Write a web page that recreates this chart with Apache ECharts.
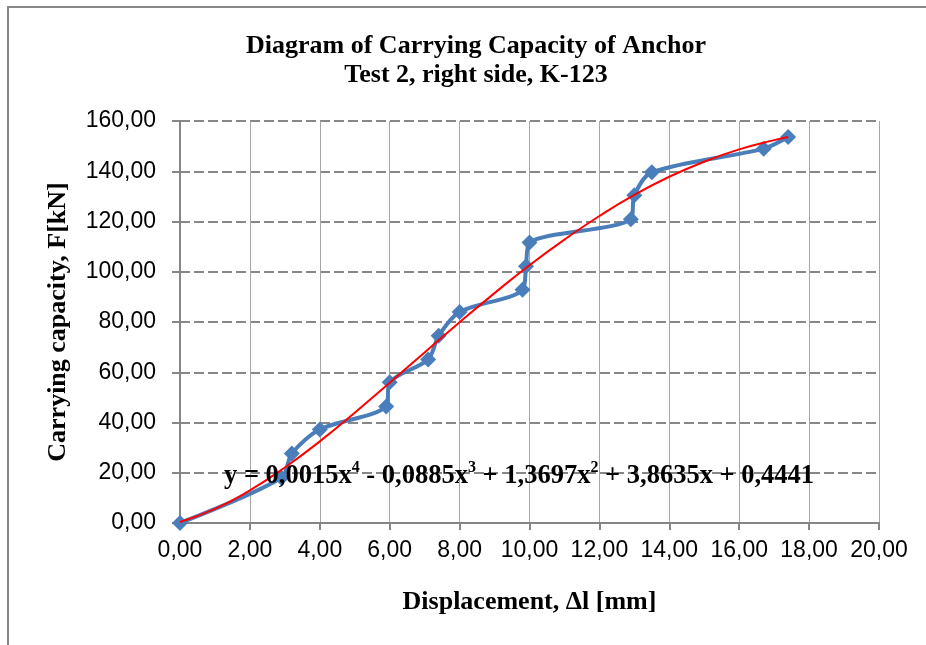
<!DOCTYPE html>
<html>
<head>
<meta charset="utf-8">
<script src="https://cdn.jsdelivr.net/npm/echarts@6/dist/echarts.min.js"></script>
<style>
  html, body { margin: 0; padding: 0; background: #fff; }
  #chart { width: 926px; height: 645px; }
</style>
</head>
<body>
<div id="chart"></div>
<script>
// measured points: displacement [mm] / capacity [kN]
const dispX = [0, 2.9, 3.2, 4.0, 5.9, 6.0, 7.1, 7.4, 8.0, 9.8, 9.9, 10.0, 12.9, 13.0, 13.5, 16.7, 17.4];
const forceY = [0, 18.0, 27.7, 37.2, 46.4, 56.0, 65.1, 74.5, 84.0, 92.8, 102.2, 111.6, 120.9, 130.4, 139.6, 149.0, 153.6];

// red trend line
const trendX = [0, 1, 2, 3, 4, 5, 6, 7, 8, 9, 10, 11, 12, 13, 14, 15, 16, 17, 17.4];
const trendY = [0.4, 5.6, 13.0, 22.1, 32.5, 43.9, 55.8, 67.9, 79.9, 91.5, 102.6, 112.8, 122.2, 130.6, 137.8, 143.8, 148.7, 152.4, 153.6];

const titleText = 'Diagram of Carrying Capacity of Anchor\nTest 2, right side, K-123';
const xName = 'Displacement, \u0394l [mm]';
const yName = 'Carrying capacity, F[kN]';

const serif = '"Liberation Serif", "Times New Roman", serif';
const sans = '"Liberation Sans", Arial, sans-serif';

const fmt = v => v.toFixed(2).replace('.', ',');

const chart = echarts.init(document.getElementById('chart'));
chart.setOption({
  animation: false,
  title: {
    text: titleText,
    left: 471,
    top: 27,
    textAlign: 'center',
    textStyle: { fontFamily: serif, fontWeight: 'bold', fontSize: 26, lineHeight: 29, color: '#000' }
  },
  grid: { left: 180, right: 47, top: 121, bottom: 122 },
  xAxis: {
    type: 'value',
    min: 0, max: 20, interval: 2,
    name: xName,
    nameLocation: 'middle',
    nameGap: 66,
    nameTextStyle: { fontFamily: serif, fontWeight: 'bold', fontSize: 26, color: '#000' },
    axisLine: { lineStyle: { color: '#868686', width: 2 } },
    axisTick: { show: true, length: 7, lineStyle: { color: '#868686', width: 2 } },
    axisLabel: { formatter: fmt, margin: 16, fontFamily: sans, fontSize: 23, color: '#000' },
    splitLine: { show: true, lineStyle: { color: '#a6a6a6', width: 1, type: 'solid' } }
  },
  yAxis: {
    type: 'value',
    min: 0, max: 160, interval: 20,
    name: yName,
    nameLocation: 'middle',
    nameGap: 109,
    nameTextStyle: { fontFamily: serif, fontWeight: 'bold', fontSize: 26, color: '#000' },
    axisLine: { show: true, lineStyle: { color: '#868686', width: 2 } },
    axisTick: { show: true, length: 8, lineStyle: { color: '#868686', width: 2 } },
    axisLabel: { formatter: fmt, margin: 24, fontFamily: sans, fontSize: 23, color: '#000' },
    splitLine: { show: true, lineStyle: { color: '#878787', width: 2, type: [10, 4] } }
  },
  graphic: [
    {
      type: 'rect', z: -10, silent: true,
      shape: { x: 8, y: 7, width: 1000, height: 1000 },
      style: { fill: 'none', stroke: '#888', lineWidth: 2 }
    },
    {
      type: 'text', z: 100, left: 224, top: 460,
      style: {
        text: '{b|y = 0,0015x}{s|4}{b| - 0,0885x}{s|3}{b| + 1,3697x}{s|2}{b| + 3,8635x + 0,4441}',
        rich: {
          b: { fontFamily: serif, fontWeight: 'bold', fontSize: 26.5, color: '#000', lineHeight: 30, verticalAlign: 'bottom' },
          s: { fontFamily: serif, fontWeight: 'bold', fontSize: 16, color: '#000', lineHeight: 20, verticalAlign: 'top' }
        }
      }
    }
  ],
  series: [
    {
      type: 'line',
      data: dispX.map((x, i) => [x, forceY[i]]),
      smooth: 0.3,
      symbol: 'diamond',
      symbolSize: 16,
      itemStyle: { color: '#4a7ebb' },
      lineStyle: { color: '#4a7ebb', width: 4 },
      z: 2
    },
    {
      type: 'line',
      data: trendX.map((x, i) => [x, trendY[i]]),
      smooth: true,
      symbol: 'none',
      lineStyle: { color: '#ff0000', width: 2 },
      z: 3
    }
  ]
});
</script>
</body>
</html>
